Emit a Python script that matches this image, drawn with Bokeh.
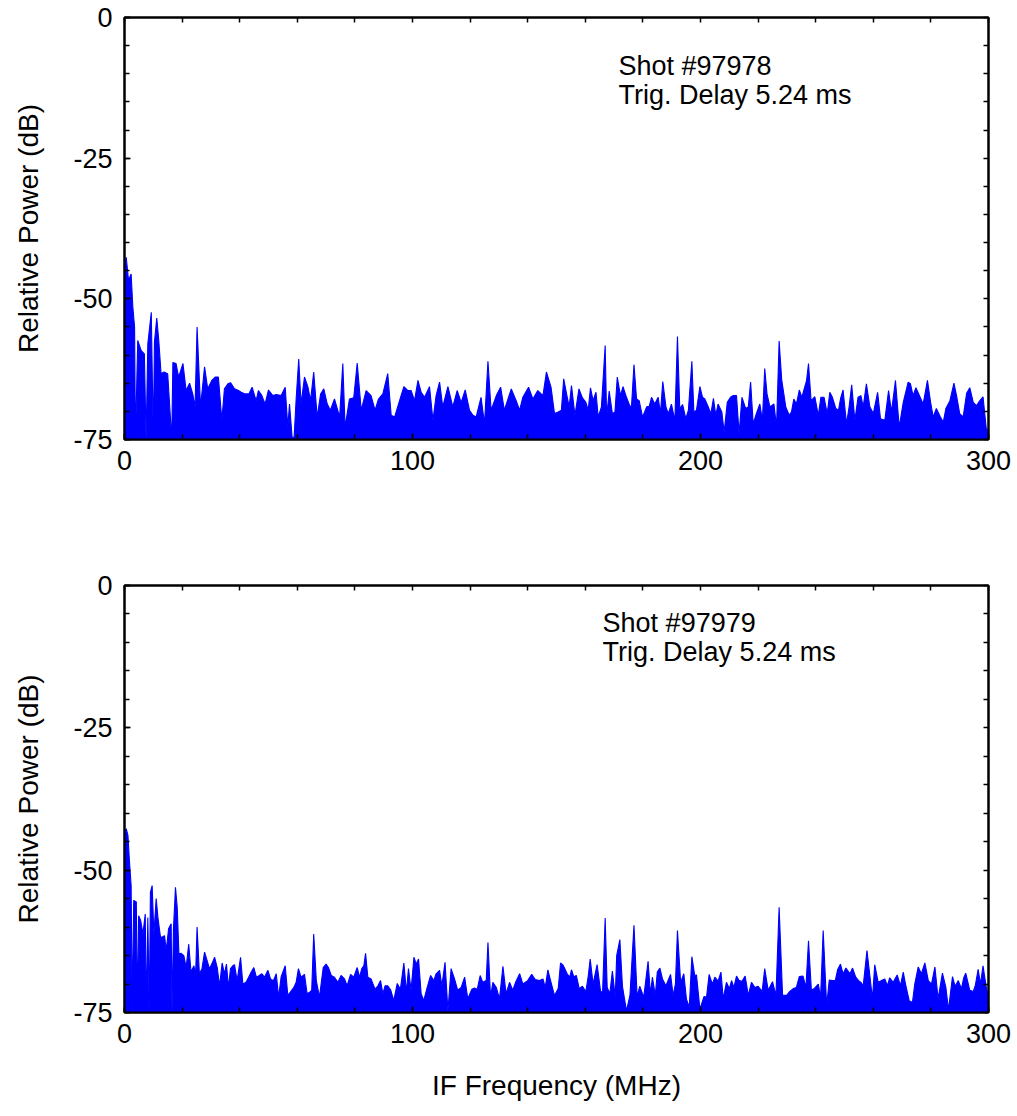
from bokeh.plotting import figure
from bokeh.layouts import column
from bokeh.models import Range1d, FixedTicker, LinearAxis, Label
from bokeh.embed import file_html
from bokeh.resources import INLINE

# ---------------- data ----------------
x_ticks = [0, 100, 200, 300]
y_ticks = [-75, -50, -25, 0]
y_tick_labels = ["-75", "-50", "-25", "0"]

top_title = ["Shot #97978", "Trig. Delay 5.24 ms"]
bot_title = ["Shot #97979", "Trig. Delay 5.24 ms"]

# Shot 97978 : IF frequency (MHz) / relative power (dB)
top_freq_lo = [
    0.0, 0.6, 1.4, 2.3, 2.9, 3.5, 3.8, 4.6, 5.8, 6.9,
    7.5, 8.1, 9.3, 10.0, 10.4, 11.2, 11.9, 12.7, 13.7, 15.0,
    16.4, 16.8, 17.9, 18.8, 20.3, 21.4, 22.6, 23.7, 24.5, 25.2,
    26.4, 27.8, 28.9, 30.3, 31.5, 32.6, 33.8, 34.7, 35.9, 36.8,
    38.2, 39.6, 40.5, 41.9, 43.2, 44.3, 45.7, 46.5, 47.7, 48.8,
    50.0, 51.5, 52.7, 54.4, 55.8, 56.7, 57.3, 58.2, 58.9, 59.6,
    60.5, 61.3, 62.5, 63.7, 64.6, 65.7, 66.9, 68.1, 69.2, 70.4,
    71.5, 72.9, 74.7, 75.8, 76.6, 78.1, 79.6, 80.8, 82.2, 83.9,
    85.6, 87.0, 88.2, 89.7, 90.5, 91.4, 92.6, 93.8, 95.5, 97.0,
    98.4, 99.5, 100.7, 101.9, 103.0, 104.2, 105.9, 107.1, 108.2, 109.4,
    110.5, 112.3, 114.0, 115.5, 116.9, 118.3, 119.8, 121.0, 122.1, 123.8,
    125.0, 126.2, 127.3, 129.1, 130.6, 131.9, 134.3, 136.0, 137.2, 138.3,
    140.3, 141.8, 143.5, 145.3, 146.5, 148.1, 149.3,
]
top_db_lo = [
    -44.0, -42.6, -46.7, -45.6, -51.5, -55.0, -75.0, -57.4, -59.2, -59.8,
    -75.0, -58.0, -52.4, -75.0, -57.7, -53.4, -57.4, -63.3, -63.0, -63.3,
    -75.0, -61.3, -61.5, -63.9, -61.5, -66.3, -65.0, -66.9, -69.2, -55.0,
    -69.2, -62.1, -66.0, -64.5, -63.9, -63.9, -71.6, -66.0, -65.1, -64.9,
    -66.0, -66.3, -66.6, -66.9, -66.9, -65.7, -68.1, -66.3, -67.2, -68.7,
    -66.2, -67.2, -67.0, -67.2, -65.7, -72.8, -68.7, -74.6, -74.6, -67.8,
    -60.7, -68.7, -63.9, -65.7, -68.1, -63.0, -71.0, -66.9, -66.0, -68.7,
    -69.8, -67.8, -71.0, -61.5, -72.8, -67.8, -67.6, -61.4, -69.8, -66.3,
    -67.2, -69.8, -67.8, -66.9, -65.2, -63.3, -70.7, -71.0, -68.1, -65.6,
    -66.3, -66.3, -68.1, -64.5, -66.6, -67.5, -65.6, -71.6, -67.2, -64.8,
    -69.2, -65.6, -69.2, -66.3, -68.4, -66.2, -69.8, -70.7, -71.0, -67.5,
    -72.2, -61.1, -69.8, -67.2, -65.7, -69.8, -66.0, -68.1, -69.8, -67.5,
    -65.7, -67.8, -66.3, -67.2, -63.0, -65.7, -70.4,
]
top_freq_hi = [
    150.6, 151.7, 152.5, 153.5, 154.4, 155.2, 156.4, 157.8, 159.0, 160.2,
    161.0, 161.8, 162.7, 163.7, 164.5, 165.6, 166.9, 167.4, 168.3, 169.4,
    170.3, 171.1, 172.2, 173.1, 174.3, 175.2, 176.0, 176.9, 177.8, 178.7,
    179.9, 181.3, 182.2, 183.0, 184.1, 185.3, 186.1, 186.9, 188.0, 188.8,
    189.9, 191.1, 192.0, 192.8, 193.8, 194.9, 195.8, 197.0, 197.7, 198.6,
    199.8, 200.7, 201.5, 202.7, 203.6, 204.5, 205.3, 206.1, 207.4, 208.2,
    209.3, 210.4, 211.3, 212.5, 213.4, 214.4, 215.7, 216.6, 217.4, 218.3,
    219.4, 220.6, 221.5, 222.3, 223.1, 224.1, 225.5, 226.4, 227.3, 228.2,
    229.6, 230.8, 231.6, 232.4, 233.3, 234.3, 235.2, 235.9, 236.8, 237.5,
    238.4, 239.7, 240.9, 241.8, 242.9, 244.0, 244.9, 245.8, 247.0, 247.9,
    248.6, 249.5, 250.7, 251.6, 252.5, 253.6, 254.7, 255.7, 256.5, 257.6,
    258.8, 260.0, 261.5, 262.5, 264.0, 265.3, 266.3, 267.7, 269.0, 270.4,
    272.1, 272.9, 273.8, 274.8, 276.2, 277.3, 278.8, 279.9, 280.8, 281.9,
    283.3, 284.3, 285.2, 286.6, 288.0, 288.9, 290.0, 291.2, 292.4, 293.5,
    294.7, 295.8, 297.0, 298.1, 299.3, 300.0,
]
top_db_hi = [
    -70.1, -69.8, -64.2, -66.9, -69.2, -65.4, -70.7, -66.0, -67.6, -68.4,
    -69.8, -65.8, -68.1, -66.6, -71.0, -69.2, -58.3, -71.0, -66.4, -70.4,
    -70.1, -63.9, -67.2, -65.6, -67.5, -68.7, -69.5, -61.7, -67.8, -68.1,
    -71.0, -69.2, -69.1, -67.5, -68.7, -67.5, -70.4, -64.7, -69.2, -70.4,
    -68.7, -71.6, -56.7, -69.5, -68.8, -71.3, -69.8, -61.1, -70.1, -69.8,
    -65.6, -67.5, -67.8, -69.2, -70.4, -67.7, -70.7, -68.7, -70.1, -73.7,
    -68.4, -67.5, -67.2, -67.2, -74.0, -67.5, -69.5, -69.2, -64.8, -72.2,
    -70.4, -68.7, -71.6, -62.4, -66.9, -69.2, -68.7, -72.8, -57.5, -64.4,
    -69.2, -70.7, -70.1, -67.8, -68.7, -66.2, -67.5, -66.2, -64.6, -61.5,
    -68.1, -67.4, -70.7, -67.5, -67.5, -70.4, -66.6, -67.5, -69.5, -69.8,
    -67.8, -66.2, -72.2, -69.2, -65.3, -71.6, -67.5, -67.2, -69.2, -65.1,
    -69.2, -70.4, -66.6, -71.3, -71.6, -66.3, -70.1, -64.5, -72.8, -68.4,
    -64.8, -65.1, -67.2, -65.8, -67.4, -68.7, -64.5, -68.4, -71.0, -69.5,
    -71.0, -71.9, -69.5, -68.1, -65.0, -67.2, -70.4, -71.0, -66.8, -65.8,
    -68.4, -69.0, -68.1, -67.4, -73.4, -73.0,
]

# Shot 97979
bot_freq_lo = [
    0.0, 0.6, 1.2, 1.7, 2.3, 2.7, 3.2, 4.1, 4.5, 4.9,
    5.6, 6.4, 7.2, 7.6, 8.1, 8.6, 9.0, 9.6, 10.2, 11.0,
    11.6, 12.5, 13.3, 13.9, 14.5, 15.3, 16.2, 16.5, 17.0, 17.7,
    18.3, 18.9, 19.7, 20.6, 21.4, 22.3, 23.1, 24.1, 24.7, 25.2,
    26.0, 26.9, 27.8, 28.7, 29.5, 30.3, 31.3, 32.2, 33.0, 33.9,
    34.7, 35.4, 36.1, 36.8, 37.6, 38.2, 39.1, 40.3, 41.1, 42.2,
    43.1, 44.0, 44.9, 45.8, 46.8, 47.7, 48.6, 49.8, 50.7, 51.7,
    52.7, 53.5, 54.4, 55.8, 56.7, 57.6, 58.8, 59.6, 60.4, 61.3,
    62.5, 63.4, 64.4, 65.0, 65.7, 66.6, 67.7, 69.0, 70.0, 70.8,
    71.8, 72.9, 74.1, 75.2, 76.4, 77.3, 78.5, 79.6, 80.8, 81.6,
    82.4, 83.1, 83.7, 84.5, 85.6, 87.0, 88.0, 88.9, 89.7, 90.5,
    91.4, 92.4, 93.5, 94.7, 95.8, 97.0, 97.9, 98.6, 99.5, 100.5,
    101.3, 102.1, 103.0, 103.9, 105.1, 106.3, 107.4, 108.2, 109.4, 110.2,
    111.3, 112.3, 113.4, 114.6, 115.7, 116.9, 118.1, 119.2, 120.6, 121.5,
    122.5, 123.5, 124.4, 125.6, 126.2, 127.1, 127.9, 129.1, 130.2, 131.4,
    132.5, 133.7, 134.8, 135.8, 137.2, 138.3, 140.0, 141.4, 142.6, 144.1,
    145.3, 146.1, 147.0, 148.1, 149.3,
]
bot_db_lo = [
    -43.5, -42.7, -43.9, -48.3, -52.7, -75.0, -55.3, -55.6, -75.0, -58.0,
    -58.8, -61.2, -57.7, -75.0, -58.3, -75.0, -53.9, -52.7, -61.2, -55.0,
    -58.3, -61.8, -61.7, -61.5, -64.1, -60.3, -59.4, -75.0, -60.3, -53.0,
    -56.5, -64.7, -64.6, -65.0, -67.1, -63.0, -67.9, -66.8, -68.2, -60.0,
    -68.2, -67.3, -64.4, -65.9, -67.3, -66.5, -65.3, -67.1, -70.3, -66.3,
    -68.2, -66.5, -70.6, -67.3, -66.8, -66.6, -69.4, -65.3, -70.0, -69.7,
    -68.8, -67.9, -67.1, -68.8, -68.5, -68.2, -68.8, -67.6, -69.1, -69.4,
    -68.2, -72.3, -68.7, -66.8, -72.0, -71.4, -70.6, -69.7, -67.3, -68.8,
    -68.3, -71.7, -71.4, -71.1, -61.2, -69.4, -72.3, -67.1, -66.5, -67.1,
    -68.5, -68.8, -69.7, -68.5, -69.1, -70.3, -68.3, -68.8, -67.1, -68.8,
    -67.3, -66.8, -64.6, -68.8, -69.1, -70.9, -70.3, -69.4, -71.7, -70.3,
    -70.3, -71.0, -72.9, -69.9, -70.9, -66.3, -71.4, -67.3, -71.1, -65.3,
    -66.5, -65.6, -71.7, -72.9, -70.6, -68.5, -69.4, -68.2, -67.6, -70.3,
    -66.2, -74.7, -67.3, -69.1, -71.1, -70.6, -68.8, -72.6, -70.9, -70.7,
    -70.9, -68.5, -69.7, -69.4, -62.7, -72.3, -69.7, -70.6, -72.6, -66.9,
    -71.7, -69.7, -71.1, -69.7, -68.2, -70.0, -69.4, -68.3, -69.2, -69.4,
    -69.1, -70.6, -67.5, -69.7, -72.0,
]
bot_freq_hi = [
    150.6, 151.4, 152.3, 153.7, 154.6, 155.2, 156.0, 156.9, 157.9, 159.0,
    160.2, 161.0, 161.7, 162.7, 164.1, 165.3, 166.0, 166.9, 167.6, 168.5,
    169.4, 170.4, 170.9, 172.0, 172.9, 174.3, 175.5, 176.9, 178.0, 178.9,
    180.3, 181.8, 182.6, 183.3, 184.3, 185.0, 185.9, 186.8, 188.0, 189.6,
    190.5, 191.3, 192.0, 193.1, 194.2, 195.1, 196.1, 197.0, 198.0, 198.6,
    199.8, 201.2, 202.1, 203.0, 204.1, 205.0, 206.1, 207.1, 207.9, 209.0,
    210.0, 210.8, 211.6, 212.5, 213.4, 214.4, 215.5, 216.6, 217.7, 218.9,
    220.0, 221.4, 222.3, 223.5, 225.0, 226.2, 227.3, 228.5, 229.9, 231.0,
    232.2, 233.3, 234.3, 235.6, 236.6, 237.5, 238.5, 239.5, 240.9, 241.7,
    242.6, 243.8, 244.7, 245.8, 246.8, 247.6, 248.6, 249.5, 250.5, 251.9,
    252.8, 253.9, 254.9, 255.7, 256.5, 257.8, 258.8, 259.7, 260.5, 261.7,
    262.8, 264.0, 264.9, 265.7, 266.9, 268.3, 269.4, 270.4, 271.3, 272.5,
    273.6, 274.4, 275.6, 276.7, 277.9, 279.1, 280.2, 281.4, 282.5, 284.0,
    285.2, 286.1, 287.5, 288.4, 289.5, 290.6, 291.4, 292.1, 293.5, 294.7,
    295.4, 296.4, 297.2, 298.1, 299.3, 300.0,
]
bot_db_hi = [
    -70.8, -66.3, -66.7, -68.2, -68.8, -67.5, -68.7, -68.5, -70.8, -70.4,
    -71.3, -68.7, -65.6, -70.0, -66.6, -71.3, -71.4, -58.4, -70.6, -71.7,
    -67.7, -72.3, -65.0, -62.2, -70.4, -74.7, -72.0, -59.7, -72.2, -70.4,
    -72.3, -66.0, -71.7, -68.8, -72.0, -67.9, -67.2, -69.1, -70.3, -68.3,
    -72.0, -70.0, -60.6, -69.7, -68.2, -72.6, -74.1, -65.2, -68.5, -68.4,
    -74.4, -72.2, -72.3, -68.3, -70.0, -68.8, -69.5, -67.9, -72.6, -69.7,
    -70.8, -69.4, -70.6, -68.6, -69.4, -69.5, -68.6, -72.0, -69.7, -70.6,
    -70.4, -71.3, -67.3, -71.1, -69.6, -72.0, -56.5, -72.0, -72.0, -71.3,
    -70.8, -70.6, -68.7, -68.6, -70.6, -62.4, -71.1, -70.8, -70.0, -72.3,
    -60.6, -73.8, -69.3, -69.4, -69.4, -67.5, -66.5, -68.2, -67.2, -68.2,
    -67.2, -68.8, -69.4, -69.7, -70.3, -64.1, -68.5, -72.6, -66.6, -69.7,
    -69.4, -69.1, -70.3, -68.9, -69.7, -68.4, -70.3, -67.9, -70.3, -73.0,
    -73.2, -70.0, -67.0, -68.2, -66.3, -69.4, -70.0, -67.0, -72.6, -68.1,
    -70.6, -74.5, -68.7, -70.4, -69.4, -70.8, -68.9, -68.1, -71.1, -71.3,
    -70.3, -67.4, -70.0, -66.8, -70.8, -72.0,
]

FONT = "Liberation Sans"
BLUE = "#0000ff"


def style_axis(ax):
    ax.axis_line_width = 2
    ax.axis_line_color = "black"
    ax.major_tick_in = 6
    ax.major_tick_out = 0
    ax.minor_tick_in = 5
    ax.minor_tick_out = 0
    ax.major_tick_line_width = 1.5
    ax.minor_tick_line_width = 1.5
    ax.major_tick_line_color = "black"
    ax.minor_tick_line_color = "black"


def make_panel(freq, db, title, tx, ty, height, b_top, b_bottom, xlabel):
    p = figure(width=1017, height=height, output_backend="svg", toolbar_location=None,
               x_range=Range1d(0, 300), y_range=Range1d(-75, 0),
               min_border_left=124, min_border_right=29,
               min_border_top=b_top, min_border_bottom=b_bottom)
    p.xgrid.visible = False
    p.ygrid.visible = False
    p.outline_line_color = "black"
    p.outline_line_width = 2

    floor = y_ticks[0]
    p.varea(x=freq, y1=[floor] * len(freq), y2=db, fill_color=BLUE)
    p.line(freq, db, line_color=BLUE, line_width=1.1)

    x_minor = list(range(x_ticks[0], x_ticks[-1] + 1, 20))
    y_minor = list(range(y_ticks[0], y_ticks[-1] + 1, 5))

    xa = p.xaxis[0]
    ya = p.yaxis[0]
    xa.ticker = FixedTicker(ticks=x_ticks, minor_ticks=x_minor)
    ya.ticker = FixedTicker(ticks=y_ticks, minor_ticks=y_minor)
    ya.major_label_overrides = {t: s for t, s in zip(y_ticks, y_tick_labels)}
    xa.major_label_overrides = {t: str(t) for t in x_ticks}

    # frame ticks on top / right (tick marks only, no labels)
    top_ax = LinearAxis(ticker=FixedTicker(ticks=[], minor_ticks=x_minor))
    right_ax = LinearAxis(ticker=FixedTicker(ticks=[], minor_ticks=y_minor))
    p.add_layout(top_ax, "above")
    p.add_layout(right_ax, "right")

    for ax in [xa, ya, top_ax, right_ax]:
        style_axis(ax)

    for ax in [xa, ya]:
        ax.major_label_text_font = FONT
        ax.major_label_text_font_size = "27px"
        ax.major_label_text_color = "black"
        ax.axis_label_text_font = FONT
        ax.axis_label_text_font_style = "normal"
        ax.axis_label_text_color = "black"
        ax.axis_label_text_font_size = "28px"

    ya.axis_label = "Relative Power (dB)"
    ya.major_label_standoff = 12
    ya.axis_label_standoff = 26
    xa.major_label_standoff = 11
    if xlabel:
        xa.axis_label = xlabel
        xa.axis_label_standoff = 24

    for line, yy in zip(title, ty):
        p.add_layout(Label(x=tx, y=yy, text=line, text_font=FONT,
                           text_font_size="27px", text_color="black",
                           text_baseline="alphabetic"))
    return p


top = make_panel(top_freq_lo + top_freq_hi, top_db_lo + top_db_hi, top_title,
                 171.5, [-8.7, -13.8], 500, 17, 61, None)
bot = make_panel(bot_freq_lo + bot_freq_hi, bot_db_lo + bot_db_hi, bot_title,
                 166.0, [-6.6, -11.7], 616, 85, 104, "IF Frequency (MHz)")

layout = column(top, bot, spacing=0)
open("out.html", "w").write(file_html(layout, INLINE))
